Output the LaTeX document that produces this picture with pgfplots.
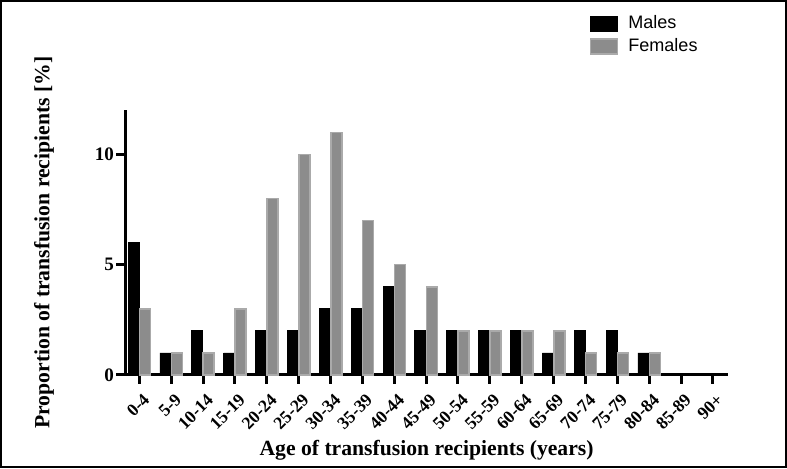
\documentclass[border=0pt]{standalone}
\usepackage{fontspec}
\setmainfont{Liberation Serif}
\newfontfamily\legfont{Liberation Sans}
\usepackage{pgfplots}
\pgfplotsset{compat=1.18}
\definecolor{fembar}{RGB}{140,140,140}
\definecolor{femedge}{RGB}{170,170,170}
\begin{document}
\begin{tikzpicture}
\begin{axis}[
  name=ax,
  scale only axis,
  width=300.5pt, height=132pt,
  ymin=0, ymax=12,
  xmin=-0.44, xmax=18.47,
  axis x line*=bottom,
  axis y line*=left,
  axis line style={line width=1.5pt},
  ybar, bar width=5.5pt,
  xtick={0,...,18},
  xticklabels={0-4,5-9,10-14,15-19,20-24,25-29,30-34,35-39,40-44,45-49,50-54,55-59,60-64,65-69,70-74,75-79,80-84,85-89,90+},
  ytick={0,5,10},
  tick align=outside,
  major tick length=4.5pt,
  tick style={line width=1.5pt, black},
  x tick label style={rotate=45, anchor=north east, font=\bfseries\fontsize{8.8}{10}\selectfont, inner sep=1pt, yshift=-3pt, xshift=-1pt},
  y tick label style={font=\bfseries\fontsize{9.5}{10}\selectfont, inner sep=1pt},
  /pgf/number format/assume math mode=true,
  xlabel={Age of transfusion recipients (years)},
  ylabel={Proportion of transfusion recipients [\%]},
  label style={font=\bfseries\fontsize{10.8}{12}\selectfont},
  xlabel style={at={(axis description cs:0.5,-0.283)}, anchor=center},
  ylabel style={at={(axis description cs:-0.135,0.5)}, anchor=center},
  legend style={at={(axis description cs:0.76,1.39)}, anchor=north west, draw=none, fill=none,
    font=\legfont\fontsize{9}{10}\selectfont, row sep=-0.5pt, column sep=3pt},
  legend cell align=left,
  clip=false,
]
\addplot[fill=black, draw=black, bar shift=-2.85pt,
  legend image code/.code={\draw[fill=black,draw=black] (0pt,-3.75pt) rectangle (13.5pt,3.75pt);}]
  coordinates {(0,6)(1,1)(2,2)(3,1)(4,2)(5,2)(6,3)(7,3)(8,4)(9,2)(10,2)(11,2)(12,2)(13,1)(14,2)(15,2)(16,1)};
\addlegendentry{Males}
\addplot[fill=fembar, draw=femedge, line width=0.8pt, bar shift=2.85pt,
  legend image code/.code={\draw[fill=fembar,draw=femedge,line width=0.8pt] (0pt,-3.75pt) rectangle (13.5pt,3.75pt);}]
  coordinates {(0,3)(1,1)(2,1)(3,3)(4,8)(5,10)(6,11)(7,7)(8,5)(9,4)(10,2)(11,2)(12,2)(13,2)(14,1)(15,1)(16,1)};
\addlegendentry{Females}
\end{axis}
\draw[line width=1pt] ([shift={(-62pt,-46pt)}]ax.south west) rectangle ([shift={(329.5pt,186.5pt)}]ax.south west);
\end{tikzpicture}
\end{document}
